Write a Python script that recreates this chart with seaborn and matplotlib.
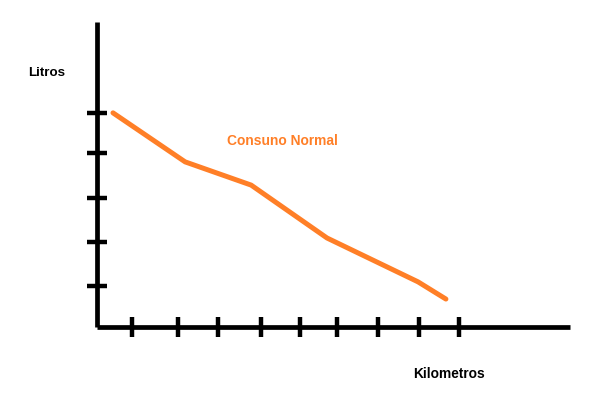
import matplotlib
matplotlib.use("Agg")
import matplotlib.pyplot as plt
import seaborn as sns
import pandas as pd

# --- data (km vs litres, hand-drawn sketch) ---
km = [0.39, 2.15, 3.76, 5.61, 7.83, 8.51]
litros = [4.98, 3.84, 3.30, 2.07, 1.05, 0.65]
x_ticks = [0.85, 1.98, 2.95, 4.0, 4.95, 5.85, 6.85, 7.85, 8.83]
y_ticks = [0.95, 1.98, 3.0, 4.05, 4.98]
series_label = "Consuno Normal"
x_label = "Kilometros"
y_label = "Litros"

df = pd.DataFrame({"km": km, "litros": litros})

sns.set_style("white")
plt.rcParams["font.family"] = ["Liberation Sans", "DejaVu Sans"]

W, H, DPI = 590, 398, 100
fig = plt.figure(figsize=(W / DPI, H / DPI), dpi=DPI)
fig.patch.set_facecolor("white")

# axes placed in pixel geometry: origin at (97, 327) from top-left
px_per_x, px_per_y = 41.0, 43.0
ax_left, ax_right = 97, 570
ax_top, ax_bottom = 22, 327
ax = fig.add_axes([ax_left / W, (H - ax_bottom) / H,
                   (ax_right - ax_left) / W, (ax_bottom - ax_top) / H])
ax.set_xlim(0, (ax_right - ax_left) / px_per_x)
ax.set_ylim(0, (ax_bottom - ax_top) / px_per_y)
ax.set_facecolor("white")

orange = "#ff7f27"
sns.lineplot(data=df, x="km", y="litros", ax=ax, color=orange,
             linewidth=3.6, solid_capstyle="round", solid_joinstyle="round",
             clip_on=False)

for side in ["top", "right"]:
    ax.spines[side].set_visible(False)
for side in ["left", "bottom"]:
    ax.spines[side].set_visible(True)
    ax.spines[side].set_color("black")
    ax.spines[side].set_linewidth(3.4)
    ax.spines[side].set_capstyle("butt")

ax.set_xticks(x_ticks)
ax.set_yticks(y_ticks)
ax.tick_params(axis="both", direction="inout", length=14.4, width=3.2,
               color="black", labelbottom=False, labelleft=False,
               bottom=True, left=True)
ax.set_xlabel("")
ax.set_ylabel("")
ax.grid(False)

# texts
ax.text((227 - ax_left) / px_per_x, (ax_bottom - 141) / px_per_y, series_label,
        color=orange, fontsize=9.9, fontweight="bold", ha="left", va="center")
fig.text(413 / W, (H - 374.5) / H, x_label, color="black", fontsize=9.9,
         fontweight="bold", ha="left", va="center")
fig.text(28 / W, (H - 73) / H, y_label, color="black", fontsize=9.6,
         fontweight="bold", ha="left", va="center")

fig.savefig("out.png", dpi=DPI, facecolor="white")
